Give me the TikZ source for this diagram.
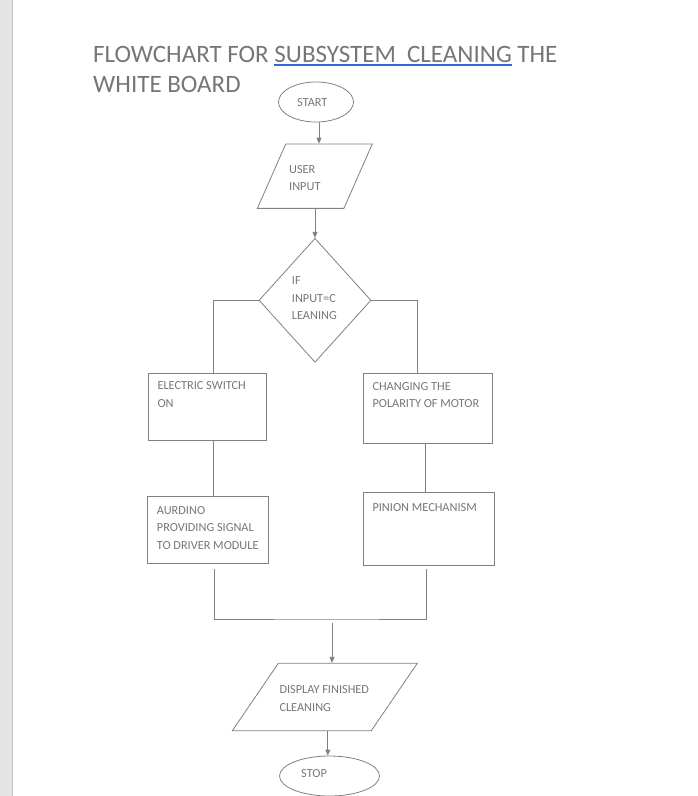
\documentclass[tikz,border=0pt]{standalone}
\usepackage{fontspec}
\setmainfont{Carlito}
\usetikzlibrary{shapes.geometric,arrows.meta,positioning}
\definecolor{ln}{HTML}{808080}
\definecolor{tx}{HTML}{767676}
\definecolor{ulblue}{HTML}{2F6AD6}
\definecolor{strip}{HTML}{E4E4E4}
\definecolor{stripline}{HTML}{C4C4C4}
\newcommand{\blueul}[1]{\setbox0\hbox{#1}\rlap{\color{ulblue}\rule[-3.2pt]{\wd0}{1.4pt}}\box0\relax}

\tikzset{
  shp/.style={draw=ln, line width=0.8pt, inner sep=0pt},
  boxshape/.style={shp, rectangle, anchor=north west},
  oval/.style={shp, ellipse, minimum width=#1, minimum height=40pt},
  para/.style={shp, trapezium, trapezium left angle=#1, trapezium right angle=180-#1},
  txt/.style={anchor=north west, inner sep=0pt, text=tx, align=left,
    font=\fontsize{12.3}{17.5}\selectfont},
  conn/.style={draw=ln, line width=0.8pt},
  arr/.style={conn, -{Triangle[length=6pt,width=5pt]}}
}

\begin{document}
\begin{tikzpicture}[x=1pt,y=-1pt]
\useasboundingbox (0,0) rectangle (697,796);
\clip (0,0) rectangle (697,796);
\fill[strip] (0,0) rectangle (12,796);
\draw[stripline, line width=1pt] (12.5,0) -- (12.5,796);

% title
\node[anchor=north west, inner sep=0pt, text=tx, align=left,
  font=\fontsize{25}{30}\selectfont] (title) at (93,46)
  {FLOWCHART FOR \blueul{SUBSYSTEM\ \ CLEANING} THE\\WHITE BOARD};

% shapes
\node[oval=75pt] (start) at (316,102) {};
\node[para=66.2, inner xsep=29.1pt, inner ysep=32.15pt] (user) at (314.8,176.2) {};
\node[shp, diamond, minimum width=112pt, minimum height=124pt] (dec) at (315,300.3) {};
\node[boxshape, minimum width=118pt, minimum height=66.7pt] (sw) at (148.3,373.3) {};
\node[boxshape, minimum width=128.4pt, minimum height=70pt] (pol) at (363.3,373.3) {};
\node[boxshape, minimum width=121pt, minimum height=67pt] (ard) at (147.3,496) {};
\node[boxshape, minimum width=131pt, minimum height=73pt] (pin) at (363.3,492.3) {};
\node[para=55.7, inner xsep=46.5pt, inner ysep=33.7pt] (disp) at (324.8,697) {};
\node[oval=100pt] (stop) at (329.5,776) {};
\coordinate (mrg) at (332,619);

% texts
\node[txt] (start-t) at (297,98.5) {START};
\node[txt] (user-t) at (289,165) {USER\\INPUT};
\node[txt] (dec-t) at (291.7,276.7) {IF\\INPUT=C\\LEANING};
\node[txt] (sw-t) at (157.3,381.7) {ELECTRIC SWITCH\\ON};
\node[txt] (pol-t) at (372.3,382.3) {CHANGING THE\\POLARITY OF MOTOR};
\node[txt] (ard-t) at (156.7,506) {AURDINO\\PROVIDING SIGNAL\\TO DRIVER MODULE};
\node[txt] (pin-t) at (372.3,503.3) {PINION MECHANISM};
\node[txt] (disp-t) at (279.3,685.7) {DISPLAY FINISHED\\CLEANING};
\node[txt] (stop-t) at (301,769) {STOP};

% connectors
\draw[arr] ([xshift=3pt]start.south) -- ([xshift=3pt]start.south |- user.north);
\draw[arr] (dec.north |- user.south) -- (dec.north);
\draw[conn] (dec.west) -| ([xshift=6pt]sw.north);
\draw[conn] (dec.east) -| ([xshift=-10.5pt]pol.north);
\draw[conn] ([xshift=6pt]sw.south) -- ([xshift=6pt]sw.south |- ard.north);
\draw[conn] ([xshift=-2.5pt]pol.south) -- ([xshift=-2.5pt]pol.south |- pin.north);
\draw[conn] ([xshift=6pt,yshift=-5pt]ard.south) |- (mrg) -| ([xshift=-3pt,yshift=-3pt]pin.south);
\draw[arr] ([yshift=-4pt]mrg) -- (mrg |- disp.north);
\draw[arr] ([xshift=3pt]disp.south) -- ([xshift=3pt]disp.south |- stop.north);
\end{tikzpicture}
\end{document}
